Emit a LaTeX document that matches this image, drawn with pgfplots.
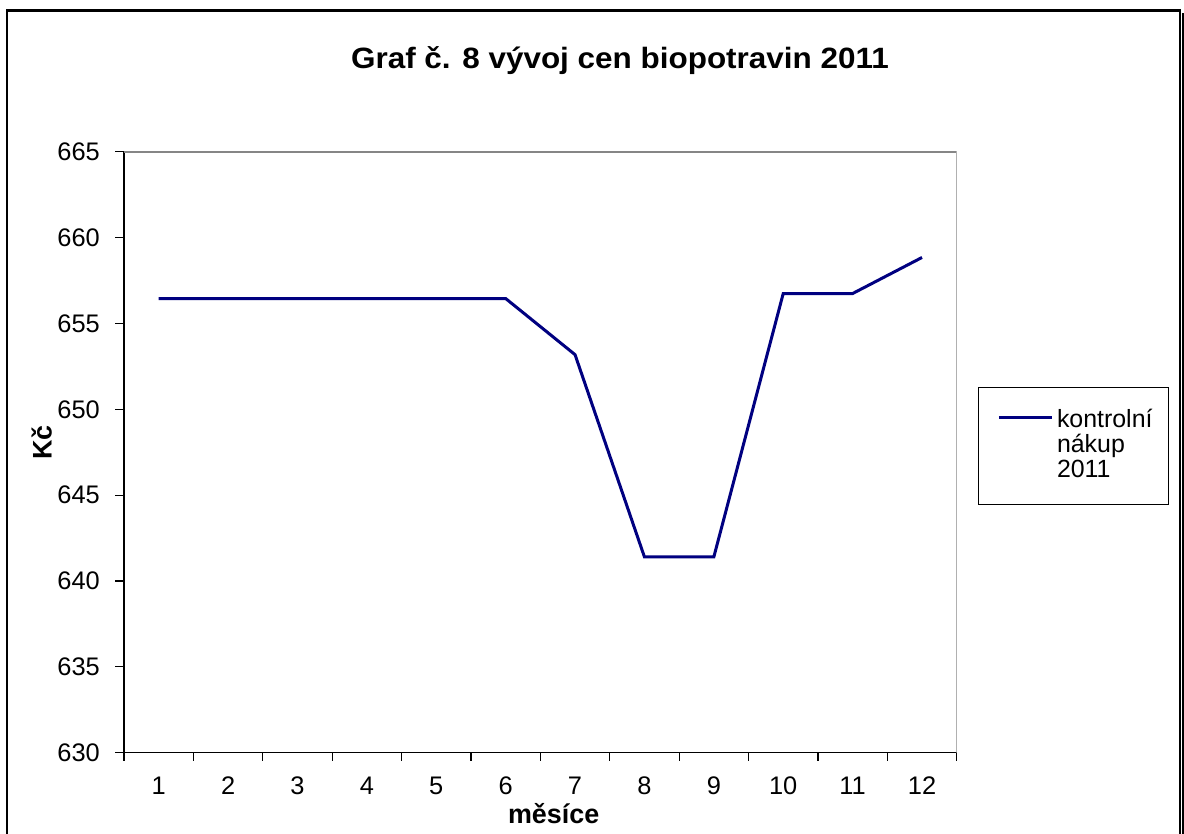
\documentclass[border=0pt]{standalone}
\usepackage{pgfplots}
\pgfplotsset{compat=1.18}
\usepackage{fontspec}
\setmainfont{Liberation Sans}
\newfontfamily\titlefont[FakeStretch=1.07]{Liberation Sans}
\definecolor{navyline}{RGB}{0,0,128}
\definecolor{framegray}{RGB}{134,134,134}
\newcommand\ls{\rule[-6.2bp]{0pt}{25.2bp}}
\newcommand\legtext{\vtop{\baselineskip=25.2bp\lineskiplimit=-20bp\hbox{\ls kontrolní}\hbox{\ls nákup}\hbox{\ls 2011}}}
\begin{document}
\begin{tikzpicture}
\useasboundingbox (0,0) rectangle (1184bp,834bp);
\fill[white] (0,0) rectangle (1184bp,834bp);
\draw[black, line width=2.5bp] (7bp,-20bp) rectangle (1180bp,823.5bp);
\draw[black, line width=2bp] (1182.5bp,-20bp) -- (1182.5bp,821bp);
\begin{axis}[
  at={(124bp,81.3bp)}, anchor=south west,
  scale only axis, width=832.7bp, height=601bp,
  xmin=0.5, xmax=12.5, ymin=630, ymax=665,
  xtick={1,...,12}, minor xtick={0.5,1.5,...,12.5},
  ytick={630,635,...,665},
  axis x line*=bottom, axis y line*=left,
  x axis line style={-}, y axis line style={-},
  axis line style={black, line width=1.5bp},
  tick align=outside,
  major tick length=9bp, minor tick length=8bp,
  every major x tick/.append style={draw=none},
  tick style={black, line width=1.2bp},
  /pgf/number format/assume math mode=true,
  /pgf/number format/1000 sep={},
  tick label style={font=\fontsize{25.5}{30}\selectfont},
  yticklabel style={inner sep=0pt, xshift=-15bp},
  xticklabel style={inner sep=0pt, yshift=-15bp},
  title={Graf č. 8 vývoj cen biopotravin 2011},
  title style={font=\titlefont\bfseries\fontsize{29.5}{34}\selectfont, at={(axis description cs:0.5956,1.1293)}, anchor=base},
  xlabel={měsíce},
  xlabel style={font=\bfseries\fontsize{27}{32}\selectfont, at={(axis description cs:0.516,-0.1015)}, anchor=center},
  ylabel={Kč},
  ylabel style={font=\bfseries\fontsize{27}{32}\selectfont, at={(axis description cs:-0.0988,0.516)}, anchor=center},
  legend style={at={(axis description cs:1.0256,0.609)}, anchor=north west, draw=black, line width=1bp, fill=white,
    font=\fontsize{25}{30}\selectfont, row sep=0pt, column sep=0pt, inner xsep=15.5bp, inner ysep=21bp,
    nodes={inner sep=0pt, text depth=, text height=}},
  legend cell align=left,
  legend image code/.code={\path[draw=none,fill=none] (0bp,28.8bp) (63bp,28.8bp);\draw[#1] (4.8bp,28.8bp) -- (58.1bp,28.8bp);},
]
\draw[framegray, line width=2bp] (rel axis cs:0,1) -- (rel axis cs:1,1) -- (rel axis cs:1,0);
\addplot[navyline, line width=3bp] coordinates {
  (1,656.45) (2,656.45) (3,656.45) (4,656.45) (5,656.45) (6,656.45)
  (7,653.18) (8,641.4) (9,641.4) (10,656.74) (11,656.74) (12,658.84)
};
\addlegendentry{\legtext}
\end{axis}
\end{tikzpicture}
\end{document}
